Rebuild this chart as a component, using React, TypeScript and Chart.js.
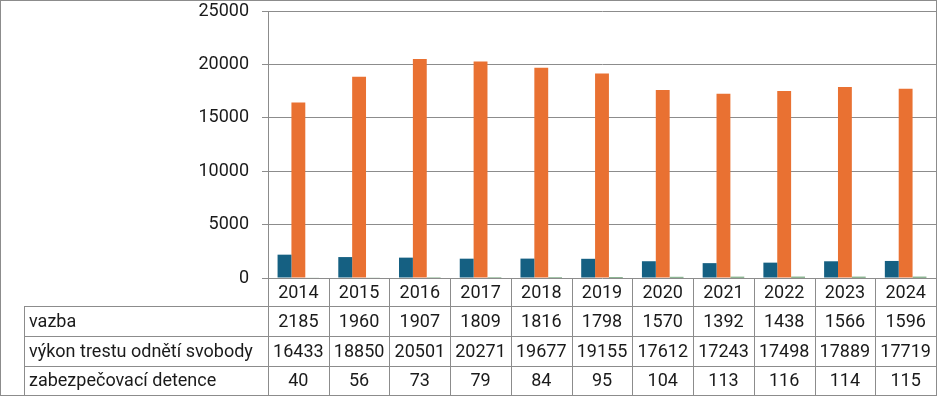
import React, { useEffect, useRef } from "react";
import { Chart, registerables } from "chart.js";

Chart.register(...registerables);

const years = ["2014", "2015", "2016", "2017", "2018", "2019", "2020", "2021", "2022", "2023", "2024"];
const seriesNames = ["vazba", "výkon trestu odnětí svobody", "zabezpečovací detence"];
const vazba = [2185, 1960, 1907, 1809, 1816, 1798, 1570, 1392, 1438, 1566, 1596];
const vykon = [16433, 18850, 20501, 20271, 19677, 19155, 17612, 17243, 17498, 17889, 17719];
const detence = [40, 56, 73, 79, 84, 95, 104, 113, 116, 114, 115];
const colors = ["#156082", "#E97132", "#196B24"];
const yTicks = [0, 5000, 10000, 15000, 20000, 25000];

const FONT = "Roboto";
const LINE = "#8c8c8c";
const TEXT = "#1a1a1a";

const tablePlugin = {
  id: "dataTable",
  afterDraw(chart: any) {
    const ctx = chart.ctx as CanvasRenderingContext2D;
    const area = chart.chartArea;
    const xs = chart.scales.x;
    const n = years.length;
    const catW = (area.right - area.left) / n;
    const top = area.bottom;
    const rowH = [28, 30, 30, 29];
    const rowY: number[] = [top];
    rowH.forEach((h) => rowY.push(rowY[rowY.length - 1] + h));
    const tableLeft = 24;
    const p = (v: number) => Math.round(v) + 0.5;

    ctx.save();
    ctx.strokeStyle = LINE;
    ctx.lineWidth = 1;
    ctx.beginPath();
    for (let r = 1; r < rowY.length; r++) {
      ctx.moveTo(tableLeft, p(rowY[r]));
      ctx.lineTo(area.right, p(rowY[r]));
    }
    ctx.moveTo(p(tableLeft), p(rowY[1]));
    ctx.lineTo(p(tableLeft), p(rowY[4]));
    for (let k = 0; k <= n; k++) {
      const x = p(area.left + k * catW - (k === 0 ? 0.5 : 0));
      ctx.moveTo(x, p(rowY[0]));
      ctx.lineTo(x, p(rowY[4]));
    }
    ctx.stroke();

    ctx.strokeRect(0.5, 0.5, chart.width - 1, rowY[4]);

    ctx.fillStyle = TEXT;
    ctx.font = `18px ${FONT}`;
    ctx.textBaseline = "middle";
    ctx.textAlign = "center";
    const rows = [years, vazba, vykon, detence];
    rows.forEach((row, r) => {
      const cy = (rowY[r] + rowY[r + 1]) / 2 + 1;
      row.forEach((v, i) => {
        const cx = xs.getPixelForValue(i);
        ctx.fillText(String(v), cx, cy);
      });
    });
    ctx.textAlign = "left";
    seriesNames.forEach((name, r) => {
      const cy = (rowY[r + 1] + rowY[r + 2]) / 2 + 1;
      ctx.fillText(name, tableLeft + 5, cy);
    });
    ctx.restore();
  },
};

export default function App() {
  const ref = useRef<HTMLCanvasElement | null>(null);

  useEffect(() => {
    document.body.style.margin = "0";
    const canvas = ref.current!;
    const chart = new Chart(canvas, {
      type: "bar",
      data: {
        labels: years,
        datasets: [
          { label: seriesNames[0], data: vazba, backgroundColor: colors[0] },
          { label: seriesNames[1], data: vykon, backgroundColor: colors[1] },
          { label: seriesNames[2], data: detence, backgroundColor: colors[2] },
        ],
      },
      options: {
        responsive: false,
        animation: false,
        devicePixelRatio: 1,
        layout: { padding: { top: 11, bottom: 118, left: 0, right: 1 } },
        datasets: { bar: { categoryPercentage: 0.685, barPercentage: 1 } },
        plugins: { legend: { display: false }, tooltip: { enabled: false } },
        scales: {
          x: { type: "category", display: false },
          y: {
            min: 0,
            max: 25000,
            afterBuildTicks: (scale: any) => {
              scale.ticks = yTicks.map((v) => ({ value: v }));
            },
            afterFit: (scale: any) => {
              scale.width = 268;
              scale.paddingTop = 0;
              scale.paddingBottom = 0;
            },
            grid: { color: LINE, lineWidth: 1, tickLength: 6 },
            border: { display: true, color: LINE, width: 1 },
            ticks: {
              padding: 13,
              color: TEXT,
              font: { family: FONT, size: 18 },
              callback: (v: any) => String(v),
            },
          },
        },
      },
      plugins: [tablePlugin],
    });
    return () => chart.destroy();
  }, []);

  return (
    <div style={{ position: "absolute", left: 0, top: 0, width: 937, height: 396, background: "#fff" }}>
      <canvas ref={ref} width={937} height={396} style={{ display: "block" }} />
    </div>
  );
}
